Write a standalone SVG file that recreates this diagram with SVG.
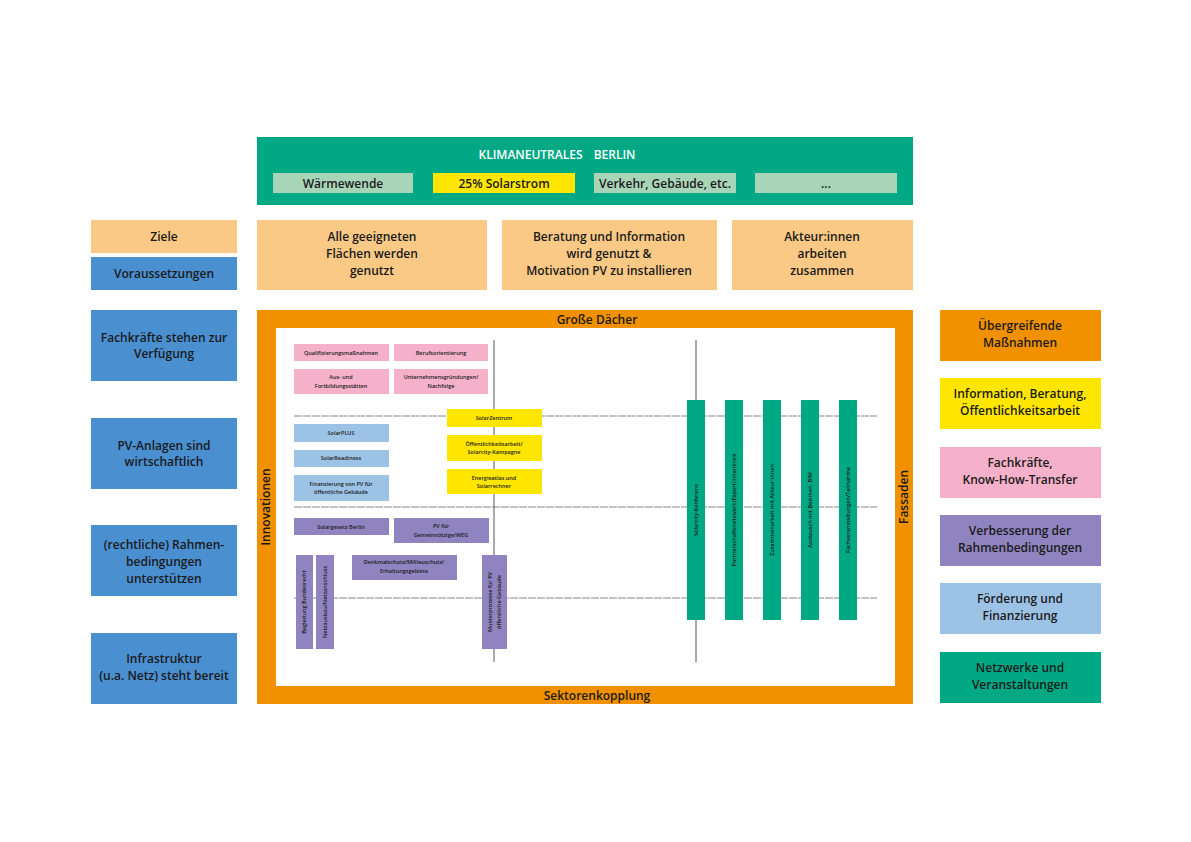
<svg xmlns="http://www.w3.org/2000/svg" width="1191" height="842" viewBox="0 0 1191 842">
<style>
text{font-family:"Open Sans","DejaVu Sans",sans-serif;fill:#1a1a1a;text-anchor:middle}
.b{font-size:12px;font-weight:600}
.s{font-size:5.5px;font-weight:600}
.g{stroke:#888;stroke-width:1;stroke-dasharray:8 1}
.v{stroke:#555;stroke-width:1}
</style>
<rect width="1191" height="842" fill="#fff"/>
<g id="top">
<rect x="257" y="137" width="656" height="68" fill="#00a984"/>
<text x="557" y="159" class="b" style="fill:#fff;word-spacing:8px">KLIMANEUTRALES BERLIN</text>
<rect x="273" y="173" width="140" height="20" fill="#a8d5b8"/><text x="343" y="188" class="b">Wärmewende</text>
<rect x="433" y="173" width="142" height="20" fill="#ffe600"/><text x="504" y="188" class="b">25% Solarstrom</text>
<rect x="594" y="173" width="142" height="20" fill="#a8d5b8"/><text x="665" y="188" class="b">Verkehr, Gebäude, etc.</text>
<rect x="755" y="173" width="142" height="20" fill="#a8d5b8"/><text x="826" y="188" class="b">...</text>
</g>
<g id="ziele"><rect x="91" y="220" width="146" height="33" fill="#f9c985"/><text x="164" y="241" class="b">Ziele</text></g>
<g id="vorauss"><rect x="91" y="257" width="146" height="33" fill="#4a8fd0"/><text x="164" y="278" class="b">Voraussetzungen</text></g>
<g id="z1"><rect x="257" y="220" width="230" height="70" fill="#f9c985"/><text x="372" y="241" class="b">Alle geeigneten</text><text x="372" y="258" class="b">Flächen werden</text><text x="372" y="275" class="b">genutzt</text></g>
<g id="z2"><rect x="502" y="220" width="215" height="70" fill="#f9c985"/><text x="609" y="241" class="b">Beratung und Information</text><text x="609" y="258" class="b">wird genutzt &amp;</text><text x="609" y="275" class="b">Motivation PV zu installieren</text></g>
<g id="z3"><rect x="732" y="220" width="181" height="70" fill="#f9c985"/><text x="822" y="241" class="b">Akteur:innen</text><text x="822" y="258" class="b">arbeiten</text><text x="822" y="275" class="b">zusammen</text></g>
<g id="l1"><rect x="91" y="310" width="146" height="71" fill="#4a8fd0"/><text x="164" y="342" class="b">Fachkräfte stehen zur</text><text x="164" y="358" class="b">Verfügung</text></g>
<g id="l2"><rect x="91" y="418" width="146" height="71" fill="#4a8fd0"/><text x="164" y="450" class="b">PV-Anlagen sind</text><text x="164" y="466" class="b">wirtschaftlich</text></g>
<g id="l3"><rect x="91" y="525" width="146" height="71" fill="#4a8fd0"/><text x="164" y="549" class="b">(rechtliche) Rahmen-</text><text x="164" y="566" class="b">bedingungen</text><text x="164" y="583" class="b">unterstützen</text></g>
<g id="l4"><rect x="91" y="633" width="146" height="71" fill="#4a8fd0"/><text x="164" y="663" class="b">Infrastruktur</text><text x="164" y="680" class="b">(u.a. Netz) steht bereit</text></g>
<g id="frame">
<rect x="257" y="310" width="656" height="394" fill="#f29100"/>
<rect x="276" y="328" width="619" height="358" fill="#fff"/>
<text x="597" y="324" class="b">Große Dächer</text>
<text x="597" y="700" class="b">Sektorenkopplung</text>
<text class="b" transform="translate(270,507) rotate(-90)">Innovationen</text>
<text class="b" transform="translate(908,497) rotate(-90)">Fassaden</text>
</g>
<g id="connectors">
<line class="g" x1="294" y1="416" x2="877" y2="416"/>
<line class="g" x1="294" y1="507" x2="877" y2="507"/>
<line class="g" x1="294" y1="598" x2="877" y2="598"/>
<line class="v" x1="494" y1="340" x2="494" y2="662"/>
<line class="v" x1="696" y1="340" x2="696" y2="662"/>
</g>
<g id="pink">
<rect x="294" y="344" width="95" height="17" fill="#f5b1ca"/><text x="341" y="355" class="s">Qualifizierungsmaßnahmen</text>
<rect x="394" y="344" width="94" height="17" fill="#f5b1ca"/><text x="441" y="355" class="s">Berufsorientierung</text>
<rect x="294" y="369" width="95" height="25" fill="#f5b1ca"/><text x="341" y="379" class="s">Aus- und</text><text x="341" y="388" class="s">Fortbildungsstätten</text>
<rect x="394" y="369" width="94" height="25" fill="#f5b1ca"/><text x="441" y="379" class="s">Unternehmensgründungen/</text><text x="441" y="388" class="s">Nachfolge</text>
</g>
<g id="yellow">
<rect x="447" y="409" width="95" height="18" fill="#ffe600"/><text x="494" y="420" class="s">SolarZentrum</text>
<rect x="447" y="435" width="95" height="26" fill="#ffe600"/><text x="494" y="446" class="s">Öffentlichkeitsarbeit/</text><text x="494" y="454" class="s">Solarcity-Kampagne</text>
<rect x="447" y="469" width="95" height="25" fill="#ffe600"/><text x="494" y="480" class="s">Energieatlas und</text><text x="494" y="488" class="s">Solarrechner</text>
</g>
<g id="blue">
<rect x="294" y="424" width="95" height="18" fill="#9cc2e5"/><text x="341" y="435" class="s">SolarPLUS</text>
<rect x="294" y="450" width="95" height="17" fill="#9cc2e5"/><text x="341" y="460" class="s">SolarReadiness</text>
<rect x="294" y="475" width="95" height="26" fill="#9cc2e5"/><text x="341" y="486" class="s">Finanzierung von PV für</text><text x="341" y="494" class="s">öffentliche Gebäude</text>
</g>
<g id="purple">
<rect x="294" y="518" width="95" height="17" fill="#8f84c0"/><text x="341" y="529" class="s">Solargesetz Berlin</text>
<rect x="394" y="518" width="95" height="25" fill="#8f84c0"/><text x="441" y="528" class="s">PV für</text><text x="441" y="537" class="s">Gemeinnützige/WEG</text>
<rect x="352" y="555" width="105" height="25" fill="#8f84c0"/><text x="404" y="564" class="s">Denkmalschutz/Millieuschutz/</text><text x="404" y="573" class="s">Erhaltungsgebiete</text>
<rect x="296" y="555" width="17" height="94" fill="#8f84c0"/><text class="s" transform="translate(306,602) rotate(-90)">Begleitung Bundesrecht</text>
<rect x="316" y="555" width="18" height="94" fill="#8f84c0"/><text class="s" transform="translate(327,602) rotate(-90)">Netzausbau/Netzanschluss</text>
<rect x="482" y="555" width="25" height="94" fill="#8f84c0"/><text class="s" transform="translate(492,602) rotate(-90)">Musterprozesse für PV</text><text class="s" transform="translate(501,602) rotate(-90)">öffentliche Gebäude</text>
</g>
<g id="green">
<rect x="687" y="400" width="18" height="220" fill="#00a984"/><text class="s" transform="translate(698,510) rotate(-90)">Solarcity-Konferenz</text>
<rect x="725" y="400" width="18" height="220" fill="#00a984"/><text class="s" transform="translate(736,510) rotate(-90)">Partnerschaftsnetzwerk/Expert:innenkreis</text>
<rect x="763" y="400" width="18" height="220" fill="#00a984"/><text class="s" transform="translate(774,510) rotate(-90)">Zusammenarbeit mit Akteur:innen</text>
<rect x="801" y="400" width="18" height="220" fill="#00a984"/><text class="s" transform="translate(812,510) rotate(-90)">Austausch mit Bezirken, BIM</text>
<rect x="839" y="400" width="18" height="220" fill="#00a984"/><text class="s" transform="translate(850,510) rotate(-90)">Fachveranstaltungen/Teilnahme</text>
</g>
<g id="r1"><rect x="940" y="310" width="161" height="51" fill="#f29100"/><text x="1020" y="330" class="b">Übergreifende</text><text x="1020" y="347" class="b">Maßnahmen</text></g>
<g id="r2"><rect x="940" y="378" width="161" height="51" fill="#ffe600"/><text x="1020" y="398" class="b">Information, Beratung,</text><text x="1020" y="415" class="b">Öffentlichkeitsarbeit</text></g>
<g id="r3"><rect x="940" y="447" width="161" height="51" fill="#f5b1ca"/><text x="1020" y="467" class="b">Fachkräfte,</text><text x="1020" y="484" class="b">Know-How-Transfer</text></g>
<g id="r4"><rect x="940" y="515" width="161" height="51" fill="#8f84c0"/><text x="1020" y="535" class="b">Verbesserung der</text><text x="1020" y="552" class="b">Rahmenbedingungen</text></g>
<g id="r5"><rect x="940" y="583" width="161" height="51" fill="#9cc2e5"/><text x="1020" y="603" class="b">Förderung und</text><text x="1020" y="620" class="b">Finanzierung</text></g>
<g id="r6"><rect x="940" y="652" width="161" height="51" fill="#00a984"/><text x="1020" y="672" class="b">Netzwerke und</text><text x="1020" y="689" class="b">Veranstaltungen</text></g>
</svg>
